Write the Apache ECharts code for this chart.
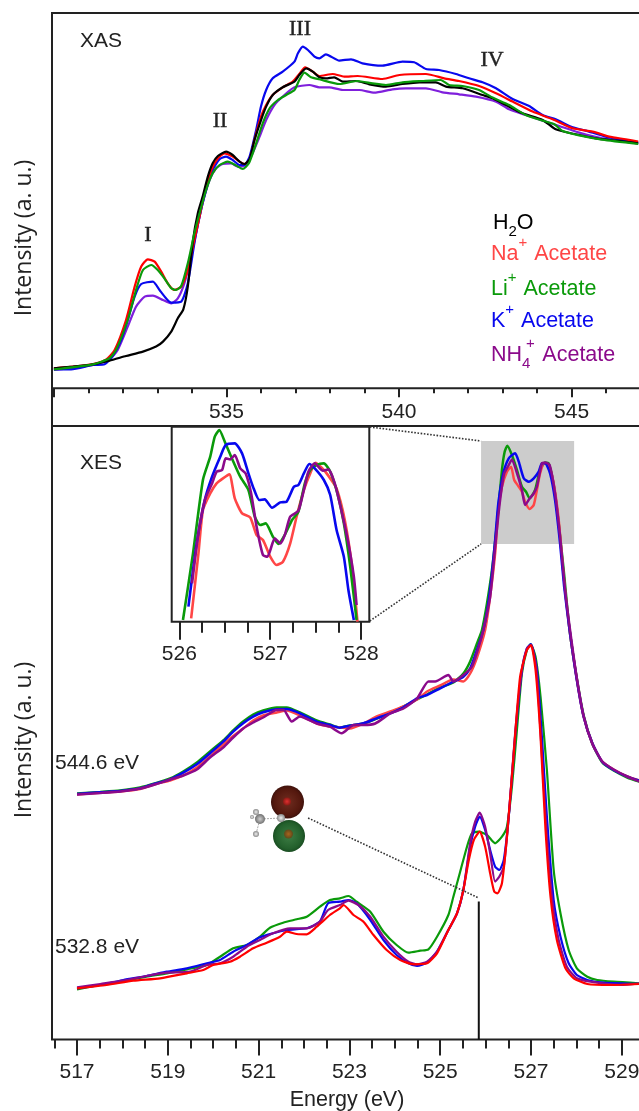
<!DOCTYPE html>
<html><head><meta charset="utf-8">
<style>html,body{margin:0;padding:0;background:#fff}#c{width:639px;height:1111px}</style>
<script src="https://cdn.jsdelivr.net/npm/echarts@6/dist/echarts.min.js"></script>
</head><body><div id="c"></div>
<script>
// ---- XAS panel: [energy eV, intensity a.u.]
const xasWater=[[530,20],[530.55,21.7],[531.13,24],[531.61,27.7],[532.09,32.3],[532.58,36.7],[532.96,41.7],[533.16,46.7],[533.4,56.7],[533.59,70],[533.75,79],[533.88,101.7],[534.03,148],[534.17,175],[534.31,191.7],[534.46,211.7],[534.6,225],[534.75,232.3],[534.99,236.7],[535.18,233.3],[535.38,226.7],[535.52,224.3],[535.67,229],[535.81,248],[536,268],[536.15,281.7],[536.34,293.3],[536.63,301],[536.97,306.7],[537.11,313.3],[537.31,320],[537.5,316.7],[537.69,311],[537.88,310],[538.12,311],[538.37,306.7],[538.75,307.3],[539.14,304],[539.62,301.7],[540.1,304.3],[540.59,306],[541.07,306],[541.36,301.7],[541.84,300],[542.42,293.3],[542.71,290],[543.1,283.3],[543.58,275],[544.16,268.3],[544.54,259],[545.12,254],[545.7,250],[546.28,247.7],[546.93,245]];
const xasNa=[[530,20],[530.55,21.7],[531.13,24.3],[531.52,29],[531.76,38.3],[532.09,68.3],[532.34,101.7],[532.53,121.7],[532.72,129],[532.92,126.7],[533.11,116.7],[533.3,105],[533.49,98.3],[533.69,101.7],[533.88,118.3],[534.07,148.3],[534.22,171.7],[534.36,195],[534.56,218.3],[534.75,230],[534.94,235],[535.18,231.7],[535.38,226.7],[535.52,224.3],[535.67,228.3],[535.81,248.3],[536,271.7],[536.15,283.3],[536.34,293.3],[536.63,301],[536.92,306.7],[537.11,314.3],[537.28,321],[537.5,316.7],[537.69,312.3],[538.08,314.3],[538.41,311.7],[538.8,312.3],[539.52,309.3],[540.01,313.3],[540.78,314.3],[541.31,310],[541.74,307.3],[542.32,302.3],[542.81,295],[543.29,286.7],[543.87,276.7],[544.45,269],[545.03,260],[545.61,256.7],[546.09,251.7],[546.57,249],[546.93,246.7]];
const xasLi=[[530,19],[531.13,24],[531.61,30],[531.8,38.3],[532.14,68.3],[532.38,98.3],[532.58,118.3],[532.82,123.3],[533.01,118.3],[533.2,110],[533.4,100],[533.54,98.3],[533.69,102.3],[533.88,125],[534.07,155],[534.22,175],[534.41,198.3],[534.6,215],[534.8,223.3],[535.04,226.7],[535.28,222.7],[535.47,219.3],[535.65,225],[535.86,245],[536.05,265],[536.25,280],[536.49,288.3],[536.73,293.3],[536.97,298.3],[537.11,308.3],[537.26,315.7],[537.45,311],[537.69,309],[538.27,304.3],[538.8,307.3],[539.23,305],[539.62,303.3],[540.1,306],[540.68,307.3],[541.21,308.3],[541.45,303.3],[541.84,302.3],[542.32,298.3],[542.71,290.7],[543.19,283.3],[543.67,273.3],[544.16,267.7],[544.5,264],[544.74,257.3],[545.22,253],[545.89,248.7],[546.93,244.3]];
const xasK=[[530,19],[530.5,19],[531.13,23.3],[531.47,24],[531.71,32.3],[531.95,48.3],[532.14,68.3],[532.34,91.7],[532.53,104.3],[532.87,106.7],[533.06,98.3],[533.25,90],[533.4,85.7],[533.69,86.7],[533.88,105],[534.07,145],[534.22,171.7],[534.41,198.3],[534.6,218.3],[534.8,229],[534.99,231.7],[535.18,228.3],[535.38,223.3],[535.52,223.3],[535.67,231.7],[535.86,258.3],[536,281.7],[536.15,298.3],[536.34,310],[536.63,316.7],[536.97,326.7],[537.07,335],[537.21,341.7],[537.36,338.3],[537.55,331.7],[537.69,330],[537.88,334],[538.27,327.7],[538.61,329],[538.94,325],[539.52,322.7],[540.1,326.7],[540.44,326],[540.78,319.3],[541.16,318.3],[541.65,314.3],[542.03,310],[542.42,306],[542.81,300],[543.29,289.3],[543.77,282.3],[544.16,273.3],[544.54,269],[545.03,261],[545.41,257.7],[545.99,251.7],[546.93,245.7]];
const xasNH4=[[530,18.3],[531.13,23.3],[531.61,29],[531.85,38.3],[532.14,61.7],[532.38,81.7],[532.63,91.7],[532.87,92.7],[533.16,88.3],[533.4,85],[533.59,90],[533.78,105],[533.98,131.7],[534.12,155],[534.31,185],[534.51,208.3],[534.7,220],[534.89,224.3],[535.14,225],[535.33,221.7],[535.52,222.7],[535.71,231.7],[535.96,251.7],[536.15,268.3],[536.39,283.3],[536.68,293.3],[536.97,301],[537.4,303.3],[537.69,301],[537.98,301],[538.37,298.3],[538.85,298.3],[539.28,295.7],[539.81,299],[540.2,300],[540.78,300],[541.26,296],[541.74,294],[542.23,291.7],[542.81,286.7],[543.19,279],[543.67,273.3],[544.16,267.7],[544.64,262.3],[545.22,255.7],[545.89,250],[546.93,245]];

// ---- XES 544.6 eV
const hiK=[[517,245.5],[517.51,247.2],[517.95,248.5],[518.39,251.2],[518.75,256.2],[519.05,260.2],[519.34,266.8],[519.64,275.2],[519.93,286.2],[520.22,297.8],[520.44,307.8],[520.66,316.2],[520.88,322.8],[521.1,327.2],[521.4,330.2],[521.62,330.5],[521.91,326.2],[522.28,317.8],[522.57,314.5],[522.79,311.8],[523.01,313.8],[523.31,316.2],[523.6,321.2],[523.9,326.2],[524.19,332.2],[524.49,341.2],[524.71,344.5],[525,351.2],[525.29,357.8],[525.51,362.8],[525.66,371.2],[525.81,389.5],[525.95,409.5],[526.06,436.2],[526.14,466.2],[526.21,499.5],[526.28,536.2],[526.39,566.2],[526.51,581.2],[526.65,586.2],[526.73,577.8],[526.84,561.2],[526.95,557.8],[527.06,561.2],[527.17,567.8],[527.24,576.2],[527.31,576.2],[527.42,566.2],[527.53,539.5],[527.64,496.2],[527.73,452.8],[527.85,409.5],[528.01,359.5],[528.16,322.8],[528.35,296.2],[528.57,277.8],[528.82,269.5],[529.12,262.8],[529.39,258.8]];
const hiNa=[[517,245],[517.51,246.7],[517.95,248],[518.39,250.5],[518.75,255.7],[519.05,259],[519.34,264],[519.64,272],[519.93,283],[520.22,295],[520.44,303.5],[520.66,311],[520.88,319],[521.1,324],[521.4,327],[521.62,329],[521.91,324],[522.28,316],[522.57,313],[522.79,312],[523.01,311],[523.31,316],[523.6,323],[523.9,328],[524.19,333],[524.49,340],[524.71,348],[525,354],[525.29,360],[525.51,358],[525.66,366],[525.81,382],[525.99,409.5],[526.1,442.8],[526.21,486],[526.28,529.5],[526.36,552.8],[526.47,567.8],[526.56,572.8],[526.63,559.5],[526.73,552.8],[526.8,547.8],[526.87,537.8],[526.97,530.5],[527.06,534.5],[527.13,549.5],[527.2,566],[527.29,576],[527.39,574.5],[527.5,556],[527.61,519.5],[527.72,463],[527.85,409.5],[528.01,360],[528.16,323],[528.35,296],[528.57,278],[528.82,270],[529.12,263],[529.39,259]];
const hiLi=[[517,246],[517.51,247.5],[517.95,249],[518.39,252],[518.75,256.5],[519.05,261],[519.34,268],[519.64,277],[519.93,288],[520.22,299],[520.44,309],[520.66,318],[520.88,325],[521.1,329],[521.4,332],[521.62,332],[521.91,327],[522.28,319],[522.57,315],[522.79,312],[523.01,314],[523.31,316],[523.6,321],[523.9,327],[524.19,333],[524.49,340],[524.71,345],[525,352],[525.29,357],[525.51,366],[525.66,378],[525.81,396],[525.92,409.5],[526.03,436],[526.14,469.5],[526.25,516],[526.36,569.5],[526.42,587.8],[526.48,593.8],[526.58,584.5],[526.69,569.5],[526.8,552.8],[526.89,547.8],[526.97,541.2],[527.09,549.5],[527.2,569.5],[527.31,577],[527.39,576],[527.5,554.5],[527.61,516],[527.72,469.5],[527.85,409.5],[528.01,361],[528.16,324],[528.35,296],[528.57,277],[528.82,269],[529.12,262],[529.39,258]];
const hiNH4=[[517,245],[517.51,246.5],[517.95,248],[518.39,251],[518.75,255.5],[519.05,260],[519.34,264],[519.64,270],[519.93,282],[520.22,292],[520.44,302],[520.66,311],[520.88,317],[521.1,322],[521.4,329.5],[521.55,329.5],[521.73,318],[521.91,323],[522.28,316],[522.57,312.8],[522.83,306.2],[523.09,314.5],[523.31,314.5],[523.57,316],[523.9,326],[524.19,331],[524.49,341],[524.74,358],[524.89,358],[525.18,364.5],[525.29,358],[525.51,364.5],[525.7,373],[525.85,393],[525.95,409.5],[526.1,442.8],[526.21,492.8],[526.31,536],[526.41,566],[526.51,574.5],[526.58,580],[526.67,569.5],[526.8,549.5],[526.87,534.5],[526.97,541],[527.06,546],[527.13,552.8],[527.24,576],[527.31,577],[527.41,574.5],[527.53,546],[527.64,503],[527.75,449.5],[527.86,409.5],[528.01,361],[528.16,323],[528.35,296],[528.57,278],[528.82,270],[529.12,263],[529.39,258]];

// ---- XES 532.8 eV
const loLi=[[517,50.2],[517.51,54.5],[518.02,58.5],[518.53,62.8],[518.98,66.2],[519.42,70.2],[519.86,74.5],[520.15,82.8],[520.44,91.2],[520.74,94.5],[521.03,102.8],[521.25,111.8],[521.54,116.8],[521.84,120.2],[522.06,122.8],[522.35,132.8],[522.57,139.5],[522.79,141.2],[522.98,143.5],[523.16,137.8],[523.46,127.8],[523.75,107.8],[524.04,94.5],[524.3,86.8],[524.56,88.8],[524.74,90.2],[524.93,102.8],[525.18,124.5],[525.29,142.8],[525.44,167.8],[525.59,192.8],[525.7,206.2],[525.85,207.8],[526.03,204.5],[526.21,196.2],[526.36,202.8],[526.47,212.8],[526.58,252.8],[526.69,309.5],[526.8,366],[526.91,389.5],[526.99,395.5],[527.1,382.8],[527.21,342.8],[527.35,269.5],[527.5,169.5],[527.65,126],[527.83,89.5],[528.01,71.2],[528.24,62.8],[528.46,59.5],[528.82,57.8],[529.39,56.2]];
const loK=[[517,51.2],[517.51,54.5],[518.02,59.5],[518.53,63.5],[518.98,67.8],[519.42,71.2],[519.86,76.2],[520.15,79.5],[520.44,87.8],[520.74,94.5],[521.03,102.2],[521.32,106.2],[521.62,109.5],[522.06,111.2],[522.35,118],[522.53,136.2],[522.79,137.8],[522.98,139.5],[523.16,136.2],[523.46,119.5],[523.75,99.5],[524.04,84.5],[524.3,76.2],[524.49,73.5],[524.71,76.8],[524.93,87.8],[525.18,109.5],[525.37,126.2],[525.51,149.5],[525.66,192.8],[525.77,212.8],[525.87,222.8],[525.99,209.5],[526.1,189.5],[526.21,172.8],[526.3,169.5],[526.4,179.5],[526.51,222.8],[526.65,302.8],[526.8,369.5],[526.91,391.2],[527,395.5],[527.13,369.5],[527.24,302.8],[527.35,222.8],[527.5,139.5],[527.65,102.8],[527.83,76.2],[528.01,64.5],[528.24,59.5],[528.6,56.8],[529.39,55.5]];
const loNa=[[517,51.2],[517.65,54.5],[518.24,58.8],[518.83,61.2],[519.42,66.2],[519.78,69.5],[520,74.5],[520.37,77.8],[520.59,82.8],[520.88,91.2],[521.18,96.8],[521.47,102.8],[521.62,107.8],[521.84,105.5],[522.06,105.2],[522.28,112.8],[522.57,124.5],[522.79,131.2],[522.87,134.5],[523.09,124.5],[523.31,117.8],[523.53,104.5],[523.82,89.5],[524.12,79.5],[524.41,75.2],[524.71,76.2],[524.93,86.2],[525.18,109.5],[525.37,126.2],[525.51,149.5],[525.63,179.5],[525.74,199.5],[525.87,207.8],[525.99,192.8],[526.1,166.2],[526.19,147.8],[526.26,146.2],[526.36,156.2],[526.47,202.8],[526.62,286.2],[526.76,362.8],[526.91,389.5],[527,394.5],[527.1,369.5],[527.21,302.8],[527.32,209.5],[527.43,142.8],[527.57,99.5],[527.76,71.2],[527.94,61.2],[528.24,55.5],[528.75,54.5],[529.39,55.5]];
const loNH4=[[517,52.2],[517.51,55.5],[518.02,58.8],[518.53,63.5],[518.98,66.8],[519.49,67.8],[519.86,74.5],[520.15,76.2],[520.44,82.8],[520.74,92.8],[521.03,99.5],[521.32,106.2],[521.69,111.2],[522.06,111.2],[522.35,117.8],[522.53,129.5],[522.79,134.5],[522.98,138.8],[523.2,134.5],[523.46,122.8],[523.75,102.8],[524.04,87.8],[524.3,77.8],[524.49,75.2],[524.71,77.8],[524.93,87.8],[525.18,109.5],[525.37,126.2],[525.51,149.5],[525.66,196.2],[525.77,217.8],[525.87,226.8],[525.99,212.8],[526.1,186.2],[526.21,157.8],[526.3,162.8],[526.4,172.8],[526.51,222.8],[526.65,306],[526.8,369.5],[526.91,391.2],[527,394.5],[527.12,369.5],[527.22,299.5],[527.34,209.5],[527.46,142.8],[527.61,99.5],[527.79,72.8],[528.01,61.2],[528.31,57.8],[528.97,54.5],[529.39,56.2]];

// ---- inset
const inLi=[[526.04,1.7],[526.15,68],[526.26,142],[526.34,165],[526.39,185],[526.44,191.7],[526.5,180],[526.58,163],[526.67,145],[526.76,131.7],[526.83,105],[526.89,96.7],[526.95,98.3],[527.03,85],[527.09,77.7],[527.16,86.7],[527.24,101.7],[527.31,110],[527.38,138],[527.44,151.7],[527.51,156.7],[527.59,158.3],[527.66,150],[527.74,128],[527.81,98.3],[527.88,55],[527.95,1.7]];
const inK=[[526.1,15],[526.19,78],[526.28,121.7],[526.36,145],[526.45,165],[526.51,176.7],[526.61,178.3],[526.69,168.3],[526.76,148.3],[526.81,135],[526.88,121.7],[526.94,122.3],[527.02,114],[527.11,119.3],[527.18,120],[527.26,135],[527.31,136.7],[527.37,148.3],[527.43,157.7],[527.49,153.3],[527.59,141.7],[527.66,126.7],[527.73,91.7],[527.81,65],[527.86,31.7],[527.92,1.7]];
const inNa=[[526.13,3.3],[526.21,68],[526.26,111.7],[526.34,128.3],[526.41,138.3],[526.48,143.3],[526.55,147.3],[526.61,123.3],[526.69,108.3],[526.78,104.3],[526.85,86.7],[526.92,81.7],[527,65],[527.07,56.7],[527.14,60],[527.22,78.3],[527.29,105],[527.37,131.7],[527.44,148.3],[527.5,159],[527.59,151.7],[527.66,143.3],[527.73,133.3],[527.82,101.7],[527.9,55],[527.96,0]];
const inNH4=[[526.14,38.3],[526.21,88.3],[526.28,121.7],[526.36,138.3],[526.41,150],[526.47,151.7],[526.51,163.3],[526.56,162.3],[526.61,166.7],[526.67,153.3],[526.73,148.3],[526.79,128.3],[526.85,95],[526.92,66.7],[526.97,65],[527.05,83.3],[527.11,78.3],[527.16,86.7],[527.22,105],[527.31,111],[527.37,131.7],[527.42,150],[527.49,158.3],[527.58,151],[527.64,152.3],[527.71,138.3],[527.79,108.3],[527.86,78.3],[527.92,45],[527.95,16.7]];

// ---- annotations, in the XES axis units
const stick=[[525.85,0],[525.85,138]];
const orbitalLink=[[522.09,221.5],[525.85,141.5]];
const zoomLinkTop=[[523.45,612.5],[525.9,598.5]];
const zoomLinkBottom=[[523.45,418.5],[525.9,495.5]];
const zoomBox=[[525.9,495.5],[527.95,598.5]];

// ---- ticks
const xasMajor=[530,535,540,545], xasLabels=[535,540,545];
const xasMinor=[531,532,533,534,536,537,538,539,541,542,543,544,546];
const xesMajor=[517,519,521,523,525,527,529];
const xesMinor=[516.5,517.5,518,518.5,519.5,520,520.5,521.5,522,522.5,523.5,524,524.5,525.5,526,526.5,527.5,528,528.5];
const inMajor=[526,527,528];
const inMinor=[526.25,526.5,526.75,527.25,527.5,527.75];

const C={red:'#ff0000',pink:'#ff4646',green:'#0a9a0a',blue:'#0808ee',violet:'#7f1fdc',purple:'#8b0a8b',black:'#000000',ink:'#222222'};
const SANS='"Liberation Sans",Arial,sans-serif', OPEN='"Open Sans",sans-serif', SERIF='"Liberation Serif",serif';

function curve(name,data,color,gi,width,extra){
  return Object.assign({name,type:'line',data,xAxisIndex:gi,yAxisIndex:gi,showSymbol:false,symbol:'none',
    smooth:0.2,clip:true,silent:true,animation:false,
    lineStyle:{color,width}},extra||{});
}
function linkLine(name,data,type,width,color){
  return {name,type:'line',data,xAxisIndex:1,yAxisIndex:1,showSymbol:false,symbol:'none',silent:true,animation:false,
    lineStyle:{color,width,type},z:3};
}
function axisPair(gridIndex,min,max,major,minor,labels,lenMajor,lenMinor,margin,name){
  return [
   {type:'value',gridIndex,min,max,position:'bottom',scale:true,splitLine:{show:false},
    axisLine:{show:false,onZero:false},
    axisTick:{show:true,length:lenMajor,customValues:major,lineStyle:{color:C.ink,width:2}},
    axisLabel:{show:true,customValues:labels,margin,color:C.ink,fontFamily:SANS,fontSize:21},
    name:name||'',nameLocation:'middle',nameGap:50,nameTextStyle:{fontFamily:SANS,fontSize:21.5,color:C.ink}},
   {type:'value',gridIndex,min,max,position:'bottom',scale:true,splitLine:{show:false},
    axisLine:{show:false,onZero:false},
    axisTick:{show:true,length:lenMinor,customValues:minor,lineStyle:{color:C.ink,width:2}},
    axisLabel:{show:false}}
  ];
}
const [xa,xaM]=axisPair(0,529.945,547.04,xasMajor,xasMinor,xasLabels,9,5,13);
const [xb,xbM]=axisPair(1,516.449,529.445,xesMajor,xesMinor,xesMajor,16,9,22,'Energy (eV)');
const [xc,xcM]=axisPair(2,525.916,528.09,inMajor,inMinor,inMajor,18,11,22);
const xAxes=[xa,xb,xc,xbM,xaM,xcM];
const yBase={type:'value',axisLine:{show:false},axisTick:{show:false},axisLabel:{show:false},splitLine:{show:false}};

function txt(text,x,y,fs,fam,fill,o){
  return {type:'text',silent:true,z:20,x,y,rotation:(o&&o.rotation)||0,
    style:Object.assign({text,fontSize:fs,fontFamily:fam,fill,align:(o&&o.align)||'left',verticalAlign:'middle'},o&&o.style||{})};
}
function legendRich(text,x,y,fill){
  return {type:'text',silent:true,z:20,x,y,style:{text,fill,fontFamily:SANS,fontSize:21.5,align:'left',verticalAlign:'middle',
    rich:{b:{fontFamily:SANS,fontSize:21.5,fill,verticalAlign:'bottom'},
          u:{fontFamily:SANS,fontSize:21.5,fill,verticalAlign:'bottom',padding:[0,0,5,0]},
          p:{fontFamily:SANS,fontSize:15,fill,verticalAlign:'top',padding:[0,1,15,0]},
          d:{fontFamily:SANS,fontSize:15,fill,verticalAlign:'bottom'}}}};
}
function ball(cx,cy,r,stops){
  return {type:'circle',silent:true,z:10,shape:{cx,cy,r},style:{fill:{type:'radial',x:0.5,y:0.5,r:0.5,colorStops:stops}}};
}
function bond(x1,y1,x2,y2){
  return {type:'line',silent:true,z:10,shape:{x1,y1,x2,y2},style:{stroke:'#aaaaaa',lineWidth:1,lineDash:[2,1]}};
}
const brown=[{offset:0,color:'#6f2d20'},{offset:0.8,color:'#54180e'},{offset:1,color:'#3f120c'}];
const greenBall=[{offset:0,color:'#3d7d44'},{offset:0.8,color:'#23602c'},{offset:1,color:'#1a4d22'}];
const grey=[{offset:0,color:'#f0f0f0'},{offset:1,color:'#8a8a8a'}];
const roman={stroke:'#222222',lineWidth:0.4};

const gridBase={outerBoundsMode:'none',containLabel:false,show:true,borderWidth:2,borderColor:C.ink};
const option={
  animation:false,backgroundColor:'#fff',
  grid:[
    Object.assign({},gridBase,{left:52,top:13,width:590,height:375.3,backgroundColor:'transparent'}),
    Object.assign({},gridBase,{left:52,top:426,width:590,height:613.5,backgroundColor:'transparent'}),
    Object.assign({},gridBase,{left:171.7,top:426.7,width:197.6,height:195,backgroundColor:'#fff',z:2})
  ],
  xAxis:xAxes.map((a,i)=>{const g=[0,1,2,1,0,2][i];return Object.assign({},a,{gridIndex:g});}),
  yAxis:[
    Object.assign({},yBase,{gridIndex:0,min:0,max:375.3}),
    Object.assign({},yBase,{gridIndex:1,min:0,max:613.5}),
    Object.assign({},yBase,{gridIndex:2,min:0,max:195})
  ],
  series:[
    curve('XAS NH4+ Acetate',xasNH4,C.violet,0,2.2),
    curve('XAS K+ Acetate',xasK,C.blue,0,2.2),
    curve('XAS Na+ Acetate',xasNa,C.red,0,2.2),
    curve('XAS H2O',xasWater,C.black,0,2.2),
    curve('XAS Li+ Acetate',xasLi,C.green,0,2.2),

    curve('544.6 eV Li+',hiLi,C.green,1,2.5,{markArea:{silent:true,animation:false,itemStyle:{color:'#cccccc'},
      data:[[{coord:zoomBox[0]},{coord:zoomBox[1]}]]},z:2}),
    curve('544.6 eV Na+',hiNa,C.pink,1,2.5),
    curve('544.6 eV K+',hiK,C.blue,1,2.5),
    curve('544.6 eV NH4+',hiNH4,C.purple,1,2.5),

    curve('532.8 eV Li+',loLi,C.green,1,2.2),
    curve('532.8 eV K+',loK,C.blue,1,2.2),
    curve('532.8 eV NH4+',loNH4,C.purple,1,2.2),
    curve('532.8 eV Na+',loNa,C.red,1,2.2),

    curve('inset Na+',inNa,C.pink,2,2.6,{z:5}),
    curve('inset Li+',inLi,C.green,2,2.6,{z:5}),
    curve('inset K+',inK,C.blue,2,2.6,{z:5}),
    curve('inset NH4+',inNH4,C.purple,2,2.6,{z:5}),

    linkLine('stick',stick,'solid',2,'#111111'),
    linkLine('orbital link',orbitalLink,'dotted',1.6,'#333333'),
    linkLine('zoom top',zoomLinkTop,'dotted',1.6,'#333333'),
    linkLine('zoom bottom',zoomLinkBottom,'dotted',1.6,'#333333')
  ],
  graphic:[
    {type:'line',silent:true,shape:{x1:52,y1:388,x2:52,y2:426},style:{stroke:C.ink,lineWidth:2}},
    txt('XAS',80,41,21,SANS,C.ink),
    txt('XES',80,463,21,SANS,C.ink),
    txt('544.6 eV',55,763,21,SANS,C.ink),
    txt('532.8 eV',55,947,21,SANS,C.ink),
    txt('I',148,235,22,SERIF,C.ink,{align:'center',style:roman}),
    txt('II',220,121,22,SERIF,C.ink,{align:'center',style:roman}),
    txt('III',300,29,22,SERIF,C.ink,{align:'center',style:roman}),
    txt('IV',492,60,22,SERIF,C.ink,{align:'center',style:roman}),
    txt('Intensity (a. u.)',24,238,23,OPEN,C.ink,{align:'center',rotation:Math.PI/2}),
    txt('Intensity (a. u.)',24,740,23,OPEN,C.ink,{align:'center',rotation:Math.PI/2}),
    legendRich('{u|H}{d|2}{u|O}',493,226,'#000000'),
    legendRich('{b|Na}{p|+}{b| Acetate}',491,250,C.pink),
    legendRich('{b|Li}{p|+}{b| Acetate}',491,285,C.green),
    legendRich('{b|K}{p|+}{b| Acetate}',491,317,C.blue),
    legendRich('{u|NH}{d|4}{u|  Acetate}',491,358,C.purple),
    txt('+',526,344,15,SANS,C.purple),
    bond(261,819,281,818),bond(256,812,260,819),bond(256,834,260,819),bond(252,817,260,819),bond(281,818,287,802),bond(281,818,288,834),
    ball(287.5,802,16.5,brown),
    ball(289,836,16,greenBall),
    ball(287,801.5,4,[{offset:0,color:'#e03030'},{offset:1,color:'#8a1a14'}]),
    ball(288.5,834,4.5,[{offset:0,color:'#a8641e'},{offset:1,color:'#5e4a1a'}]),
    ball(281,818,4,grey),ball(260,819,5,[{offset:0,color:'#cfcfcf'},{offset:1,color:'#707070'}]),
    ball(256,812,3,grey),ball(256,834,3,grey),ball(252,817,2,grey)
  ]
};
const chart=echarts.init(document.getElementById('c'),null,{renderer:'canvas',width:639,height:1111});
chart.setOption(option);
</script></body></html>
